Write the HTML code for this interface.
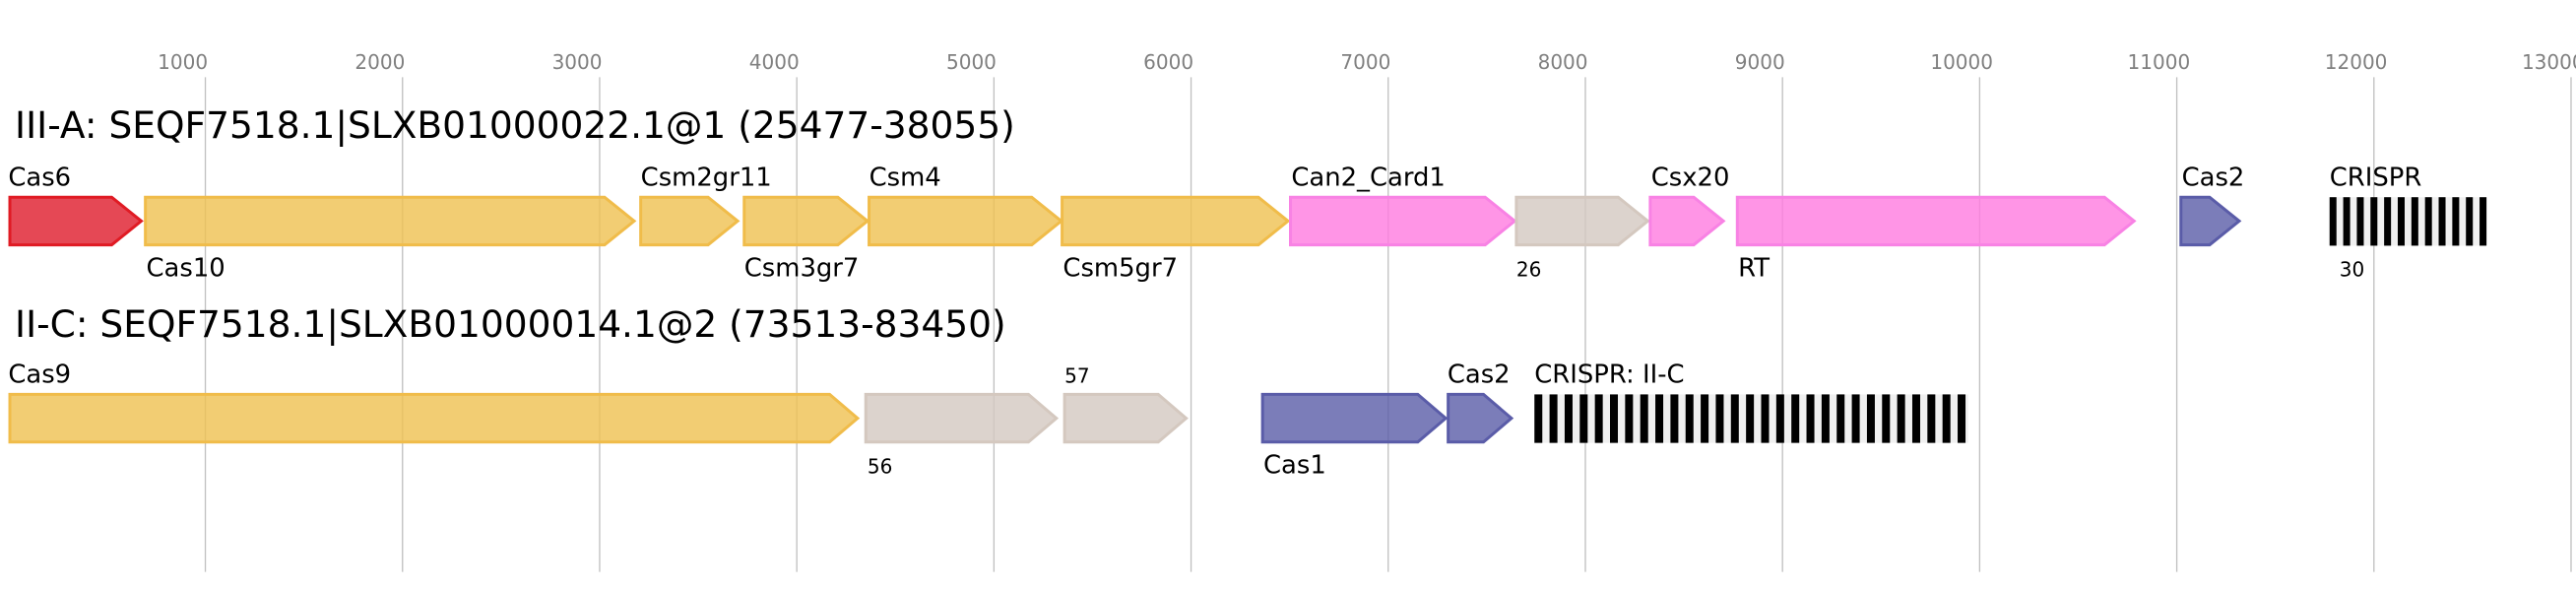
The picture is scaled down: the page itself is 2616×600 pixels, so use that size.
<!DOCTYPE html>
<html><head><meta charset="utf-8"><style>
html,body{margin:0;padding:0;background:#fff;}
svg{display:block;}
text{font-family:"DejaVu Sans","Liberation Sans",sans-serif;}
</style></head><body>
<svg width="2616" height="600" viewBox="0 0 1568 359.63" xmlns="http://www.w3.org/2000/svg">
<g stroke="#c0c0c0" stroke-width="0.8">
<line x1="125" y1="47" x2="125" y2="348"/><line x1="245" y1="47" x2="245" y2="348"/>
<line x1="365" y1="47" x2="365" y2="348"/><line x1="485" y1="47" x2="485" y2="348"/>
<line x1="605" y1="47" x2="605" y2="348"/><line x1="725" y1="47" x2="725" y2="348"/>
<line x1="845" y1="47" x2="845" y2="348"/><line x1="965" y1="47" x2="965" y2="348"/>
<line x1="1085" y1="47" x2="1085" y2="348"/><line x1="1205" y1="47" x2="1205" y2="348"/>
<line x1="1325" y1="47" x2="1325" y2="348"/><line x1="1445" y1="47" x2="1445" y2="348"/>
<line x1="1565" y1="47" x2="1565" y2="348"/>
</g>
<g fill="#808080" font-size="12">
<text x="96" y="42">1000</text><text x="216" y="42">2000</text><text x="336" y="42">3000</text>
<text x="456" y="42">4000</text><text x="576" y="42">5000</text><text x="696" y="42">6000</text>
<text x="816" y="42">7000</text><text x="936" y="42">8000</text><text x="1056" y="42">9000</text>
<text x="1175" y="42">10000</text><text x="1295" y="42">11000</text><text x="1415" y="42">12000</text>
<text x="1535" y="42">13000</text>
</g>
<text x="9" y="84" font-size="22.5" fill="#000">III-A: SEQF7518.1|SLXB01000022.1@1 (25477-38055)</text>
<text x="9" y="205" font-size="22.5" fill="#000">II-C: SEQF7518.1|SLXB01000014.1@2 (73513-83450)</text>

<g stroke-width="1.8" fill-opacity="0.8">
<polygon points="6,120 68,120 86,134.5 68,149 6,149" fill="#de1a2b" stroke="#e01b24"/>
<polygon points="88.5,120 368,120 386,134.5 368,149 88.5,149" fill="#efc050" stroke="#f0bc4a"/>
<polygon points="390,120 431,120 449,134.5 431,149 390,149" fill="#efc050" stroke="#f0bc4a"/>
<polygon points="453,120 510,120 528,134.5 510,149 453,149" fill="#efc050" stroke="#f0bc4a"/>
<polygon points="529,120 628,120 646,134.5 628,149 529,149" fill="#efc050" stroke="#f0bc4a"/>
<polygon points="646.5,120 766,120 784,134.5 766,149 646.5,149" fill="#efc050" stroke="#f0bc4a"/>
<polygon points="785.5,120 904,120 922,134.5 904,149 785.5,149" fill="#ff7ae0" stroke="#f882e4"/>
<polygon points="923,120 985,120 1003,134.5 985,149 923,149" fill="#d3c8c0" stroke="#d4c8bf"/>
<polygon points="1004.5,120 1031,120 1049,134.5 1031,149 1004.5,149" fill="#ff7ae0" stroke="#f882e4"/>
<polygon points="1057.5,120 1281,120 1299,134.5 1281,149 1057.5,149" fill="#ff7ae0" stroke="#f882e4"/>
<polygon points="1327.5,120 1345,120 1363,134.5 1345,149 1327.5,149" fill="#5a5ca8" stroke="#5a5ca8"/>
<polygon points="6,240 505,240 522,254.5 505,269 6,269" fill="#efc050" stroke="#f0bc4a"/>
<polygon points="527,240 626,240 643,254.5 626,269 527,269" fill="#d3c8c0" stroke="#d4c8bf"/>
<polygon points="648,240 705,240 722,254.5 705,269 648,269" fill="#d3c8c0" stroke="#d4c8bf"/>
<polygon points="768.5,240 863,240 880,254.5 863,269 768.5,269" fill="#5a5ca8" stroke="#5a5ca8"/>
<polygon points="881.5,240 903,240 920,254.5 903,269 881.5,269" fill="#5a5ca8" stroke="#5a5ca8"/>
</g>

<rect x="1418" y="120" width="96" height="29.5" fill="#f0f0f0"/>
<g fill="#000">
<rect x="1418" y="120" width="4.2" height="29.5"/><rect x="1426.3" y="120" width="4.2" height="29.5"/>
<rect x="1434.6" y="120" width="4.2" height="29.5"/><rect x="1442.9" y="120" width="4.2" height="29.5"/>
<rect x="1451.2" y="120" width="4.2" height="29.5"/><rect x="1459.5" y="120" width="4.2" height="29.5"/>
<rect x="1467.8" y="120" width="4.2" height="29.5"/><rect x="1476.1" y="120" width="4.2" height="29.5"/>
<rect x="1484.4" y="120" width="4.2" height="29.5"/><rect x="1492.7" y="120" width="4.2" height="29.5"/>
<rect x="1501" y="120" width="4.2" height="29.5"/><rect x="1509.3" y="120" width="4.2" height="29.5"/>
</g>
<rect x="934" y="240" width="264" height="29.5" fill="#f0f0f0"/>
<g fill="#000">
<rect x="934.0" y="240" width="4.8" height="29.5"/><rect x="943.2" y="240" width="4.8" height="29.5"/>
<rect x="952.4" y="240" width="4.8" height="29.5"/><rect x="961.6" y="240" width="4.8" height="29.5"/>
<rect x="970.8" y="240" width="4.8" height="29.5"/><rect x="980.0" y="240" width="4.8" height="29.5"/>
<rect x="989.2" y="240" width="4.8" height="29.5"/><rect x="998.4" y="240" width="4.8" height="29.5"/>
<rect x="1007.6" y="240" width="4.8" height="29.5"/><rect x="1016.8" y="240" width="4.8" height="29.5"/>
<rect x="1026.0" y="240" width="4.8" height="29.5"/><rect x="1035.2" y="240" width="4.8" height="29.5"/>
<rect x="1044.4" y="240" width="4.8" height="29.5"/><rect x="1053.6" y="240" width="4.8" height="29.5"/>
<rect x="1062.8" y="240" width="4.8" height="29.5"/><rect x="1072.0" y="240" width="4.8" height="29.5"/>
<rect x="1081.2" y="240" width="4.8" height="29.5"/><rect x="1090.4" y="240" width="4.8" height="29.5"/>
<rect x="1099.6" y="240" width="4.8" height="29.5"/><rect x="1108.8" y="240" width="4.8" height="29.5"/>
<rect x="1118.0" y="240" width="4.8" height="29.5"/><rect x="1127.2" y="240" width="4.8" height="29.5"/>
<rect x="1136.4" y="240" width="4.8" height="29.5"/><rect x="1145.6" y="240" width="4.8" height="29.5"/>
<rect x="1154.8" y="240" width="4.8" height="29.5"/><rect x="1164.0" y="240" width="4.8" height="29.5"/>
<rect x="1173.2" y="240" width="4.8" height="29.5"/><rect x="1182.4" y="240" width="4.8" height="29.5"/>
<rect x="1191.6" y="240" width="4.8" height="29.5"/>
</g>

<g fill="#000" font-size="15.5">
<text x="5" y="113">Cas6</text>
<text x="89" y="168">Cas10</text>
<text x="390" y="113">Csm2gr11</text>
<text x="453" y="168">Csm3gr7</text>
<text x="529" y="113">Csm4</text>
<text x="647" y="168">Csm5gr7</text>
<text x="786" y="113">Can2_Card1</text>
<text x="1005" y="113">Csx20</text>
<text x="1058" y="168">RT</text>
<text x="1328" y="113">Cas2</text>
<text x="1418" y="113">CRISPR</text>
<text x="5" y="233">Cas9</text>
<text x="769" y="288">Cas1</text>
<text x="881" y="233">Cas2</text>
<text x="934" y="233">CRISPR: II-C</text>
</g>
<g fill="#000" font-size="12">
<text x="923" y="168">26</text>
<text x="1424" y="168">30</text>
<text x="528" y="288">56</text>
<text x="648" y="233">57</text>
</g>
</svg>
</body></html>
